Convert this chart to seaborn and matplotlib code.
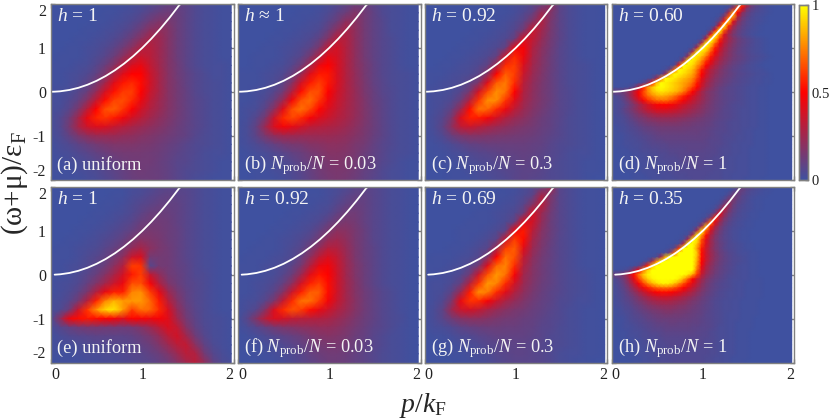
import numpy as np
import seaborn as sns
import matplotlib
matplotlib.use('Agg')
import matplotlib.pyplot as plt
from matplotlib.colors import LinearSegmentedColormap

# spectral weight, in percent
# rows: w = 2.0, 1.8, ... -2.0   columns: p = 0 ... 1.975 (21 points)
panel_a = [
[0,0,0,0,0,0,0,1,1,2,3,5,7,9,10,8,5,3,2,1,1],
[0,0,0,0,0,0,1,1,2,3,5,8,11,13,11,8,5,3,2,1,1],
[0,0,0,0,0,1,1,2,3,5,8,13,17,16,12,8,5,3,2,1,1],
[0,0,0,0,1,1,2,3,5,8,13,20,22,18,12,8,5,3,2,1,1],
[0,0,0,1,1,2,3,5,8,13,20,27,25,18,12,8,5,3,2,1,1],
[0,0,1,1,2,3,5,8,13,20,29,31,25,18,12,8,5,3,2,1,1],
[0,1,1,1,2,4,7,12,20,29,36,32,25,18,12,8,5,3,2,1,1],
[1,1,1,2,3,6,11,19,30,40,44,34,26,18,13,8,5,3,2,2,1],
[1,1,2,3,5,9,17,29,42,50,50,37,27,19,13,9,6,4,2,2,1],
[1,1,2,4,8,14,26,42,54,58,52,38,27,19,14,9,6,4,3,2,1],
[1,2,3,6,11,22,38,53,61,62,50,36,27,19,14,10,6,4,3,2,1],
[2,2,5,9,19,34,52,63,65,58,45,33,25,19,14,10,7,5,3,2,1],
[2,3,7,16,32,50,65,68,60,49,38,30,24,18,14,10,7,5,3,2,1],
[2,5,12,26,44,57,60,55,46,38,32,26,21,17,13,10,7,5,3,2,1],
[2,5,14,27,37,41,40,35,31,27,24,21,18,15,12,9,7,5,3,2,1],
[2,4,9,16,21,24,24,24,22,21,19,17,15,13,11,9,6,4,3,2,1],
[1,3,5,8,11,14,16,17,17,17,16,15,13,11,9,7,5,4,3,2,1],
[1,2,3,5,7,9,11,13,14,14,14,13,12,10,8,6,5,3,2,2,1],
[1,1,2,3,4,6,8,10,12,13,13,13,11,9,7,6,4,3,2,1,1],
[1,1,1,2,3,4,6,8,10,12,13,12,11,9,7,5,4,3,2,1,1],
[0,1,1,1,2,3,5,7,9,11,12,12,11,9,7,5,3,2,1,1,1],
]
panel_b = [
[0,0,0,0,0,0,0,0,1,1,3,5,8,11,12,8,5,3,2,1,1],
[0,0,0,0,0,0,0,1,1,2,4,8,12,18,14,9,5,3,2,1,1],
[0,0,0,0,0,0,1,1,2,3,7,12,21,20,14,9,6,3,2,1,1],
[0,0,0,0,0,1,1,2,3,5,11,20,28,21,14,9,6,3,2,1,1],
[0,0,0,0,1,1,2,3,5,9,18,32,30,21,14,9,6,4,2,1,1],
[0,0,0,1,1,2,3,5,8,16,33,38,30,21,14,9,6,4,2,1,1],
[0,0,1,1,1,2,4,7,15,29,43,39,30,21,14,9,6,4,2,1,1],
[0,0,1,1,2,3,6,13,26,44,50,40,30,21,15,10,6,4,2,1,1],
[1,1,1,2,3,5,11,23,42,55,54,40,30,22,15,10,6,4,3,2,1],
[1,1,1,2,4,8,18,38,55,62,54,40,30,22,16,10,7,4,3,2,1],
[1,1,2,3,6,13,30,52,65,65,50,38,30,23,16,11,7,5,3,2,1],
[1,1,2,5,11,24,47,66,71,60,46,36,29,23,17,11,8,5,3,2,1],
[1,2,3,8,20,42,65,72,64,51,41,34,28,23,17,12,8,5,3,2,1],
[1,2,6,15,36,58,64,58,48,41,36,31,27,22,17,12,8,5,3,2,1],
[1,3,9,24,40,47,43,38,33,31,29,27,24,20,16,12,8,5,3,2,1],
[1,3,8,16,22,25,25,24,24,24,24,23,21,18,15,11,8,5,3,2,1],
[1,2,4,7,10,13,15,16,18,19,20,20,19,16,14,10,7,5,3,2,1],
[0,1,2,3,5,7,9,11,14,16,18,18,17,15,12,9,7,4,3,2,1],
[0,1,1,2,3,4,6,9,12,14,16,17,16,14,11,9,6,4,2,1,1],
[0,0,1,1,2,3,5,7,10,13,15,16,15,13,10,8,5,3,2,1,1],
[0,0,1,1,1,2,4,6,9,12,14,15,14,12,9,7,5,3,2,1,1],
]
panel_c = [
[0,0,0,0,0,0,0,0,0,1,2,3,6,10,22,8,4,2,1,1,0],
[0,0,0,0,0,0,0,0,1,1,2,5,9,24,18,8,4,2,1,1,0],
[0,0,0,0,0,0,0,1,1,2,4,8,18,30,16,8,4,2,1,1,0],
[0,0,0,0,0,0,1,1,2,3,6,14,36,26,15,8,4,2,1,1,0],
[0,0,0,0,0,1,1,2,3,5,11,40,34,23,14,8,4,2,1,1,0],
[0,0,0,0,1,1,2,3,5,10,45,48,30,20,13,7,4,2,1,1,0],
[0,0,0,1,1,2,3,5,10,38,58,46,28,19,12,7,4,2,1,1,0],
[0,0,1,1,2,3,5,9,26,58,62,40,26,18,12,7,4,3,2,1,0],
[1,1,1,2,3,4,8,20,50,68,62,36,24,17,11,7,4,3,2,1,0],
[1,1,2,3,4,8,17,42,68,74,58,32,22,16,11,7,4,3,2,1,0],
[1,2,2,3,6,15,38,64,78,72,50,30,21,15,11,7,5,3,2,1,0],
[1,2,3,5,12,30,60,78,77,60,42,27,20,15,11,7,5,3,2,1,0],
[1,2,4,9,24,52,72,70,58,45,33,24,18,14,10,7,5,3,2,1,0],
[1,3,6,16,40,56,55,47,38,30,24,20,16,12,9,7,4,3,2,1,0],
[1,3,8,20,33,36,32,28,24,21,18,16,14,11,9,6,4,3,2,1,0],
[1,2,5,11,16,18,18,17,16,15,14,13,12,10,8,6,4,3,2,1,0],
[1,1,2,4,7,9,10,11,11,11,11,11,10,9,7,5,4,3,2,1,0],
[0,1,1,2,3,5,6,7,8,9,9,10,9,8,6,5,3,2,2,1,0],
[0,0,1,1,2,3,4,5,6,7,8,9,8,7,6,4,3,2,1,1,0],
[0,0,0,1,1,2,3,4,5,6,7,8,8,7,5,4,3,2,1,1,0],
[0,0,0,1,1,1,2,3,4,5,7,8,7,6,5,4,3,2,1,0,0],
]
panel_e = [
[0,0,0,0,0,0,0,0,1,2,3,4,6,7,7,6,5,3,2,1,1],
[0,0,0,0,0,0,0,1,1,3,4,6,8,9,8,7,5,3,2,1,1],
[0,0,0,0,0,0,1,1,2,4,6,8,10,10,9,7,5,3,2,1,1],
[0,0,0,0,0,1,1,2,3,5,8,11,12,11,9,7,5,3,2,1,1],
[0,0,0,0,1,1,2,3,5,7,11,13,13,12,9,7,5,3,2,1,1],
[0,0,0,1,1,2,3,5,7,10,14,15,14,12,10,7,5,3,2,1,1],
[0,0,1,1,2,3,5,7,10,15,19,17,15,12,10,7,5,3,2,1,1],
[0,1,1,2,3,4,7,10,14,22,27,20,16,13,10,7,5,3,2,1,1],
[1,1,1,2,4,6,9,14,21,36,40,14,14,13,10,7,5,3,2,1,1],
[1,1,2,3,5,8,12,20,30,62,60,6,14,13,10,8,5,3,2,1,1],
[1,1,2,4,7,11,18,27,38,55,62,35,22,14,11,8,5,4,2,1,1],
[1,2,3,5,10,17,26,36,45,65,65,48,30,17,12,8,6,4,2,1,1],
[1,2,4,8,16,30,44,56,56,76,78,62,44,25,15,9,6,4,2,1,1],
[2,3,6,14,30,56,75,85,80,80,80,70,55,32,18,10,6,4,2,1,1],
[2,4,12,35,60,78,92,95,80,62,72,70,58,40,22,12,7,4,2,1,1],
[3,20,45,52,54,52,50,48,42,50,48,46,48,42,26,14,8,4,3,2,1],
[2,6,10,13,15,15,14,14,13,14,18,24,32,40,34,18,9,5,3,2,1],
[1,3,5,6,7,8,8,8,8,9,12,16,22,32,38,26,13,6,3,2,1],
[1,2,2,3,4,5,5,6,6,7,9,12,17,24,32,34,20,9,4,2,1],
[1,1,1,2,3,3,4,4,5,6,7,9,12,17,24,32,30,14,6,3,1],
[0,1,1,1,2,2,3,3,4,5,6,7,9,12,18,26,32,22,9,4,2],
]
panel_f = [
[0,0,0,0,0,0,0,0,0,1,2,3,4,7,8,7,5,3,2,1,0],
[0,0,0,0,0,0,0,0,1,1,2,4,7,9,9,7,5,3,2,1,0],
[0,0,0,0,0,0,0,1,1,2,3,6,9,11,10,7,5,3,2,1,0],
[0,0,0,0,0,0,1,1,2,3,5,9,13,13,10,7,5,3,2,1,0],
[0,0,0,0,0,1,1,2,3,5,9,14,16,14,10,7,5,3,2,1,0],
[0,0,0,0,1,1,2,3,5,9,15,20,19,15,11,7,5,3,2,1,0],
[0,0,0,1,1,2,3,5,8,14,22,25,21,15,11,7,5,3,2,1,0],
[0,0,1,1,1,2,4,7,13,22,31,30,23,16,11,8,5,3,2,1,0],
[0,1,1,1,2,3,5,10,20,33,40,34,24,16,11,8,5,3,2,1,0],
[1,1,1,2,3,4,8,15,30,44,47,36,25,17,12,8,5,3,2,1,0],
[1,1,1,2,3,6,12,24,42,54,50,37,25,17,12,8,5,3,2,1,0],
[1,1,2,3,5,10,20,38,56,62,52,37,26,18,12,8,5,3,2,1,0],
[1,1,2,4,8,18,36,56,68,68,52,37,26,18,13,9,6,4,2,1,0],
[1,2,3,7,16,34,58,72,72,62,47,35,26,19,13,9,6,4,2,1,0],
[1,3,6,18,40,58,66,62,53,44,37,30,24,18,13,9,6,4,2,1,0],
[1,7,18,32,40,38,34,32,31,30,28,24,20,16,12,9,6,4,3,1,0],
[1,3,6,10,14,17,18,20,21,22,22,20,17,14,11,8,6,4,2,1,0],
[0,1,2,4,6,8,10,12,15,17,18,17,15,12,10,7,5,3,2,1,0],
[0,1,1,2,3,5,7,9,12,14,15,15,13,11,9,7,5,3,2,1,0],
[0,0,1,1,2,3,5,7,10,12,13,13,12,10,8,6,4,3,2,1,0],
[0,0,0,1,1,2,4,6,8,10,12,12,11,9,8,6,4,3,2,1,0],
]
panel_g = [
[0,0,0,0,0,0,0,0,0,1,1,3,5,9,25,7,4,2,1,1,0],
[0,0,0,0,0,0,0,0,1,1,2,4,8,28,17,7,4,2,1,1,0],
[0,0,0,0,0,0,0,1,1,2,3,7,18,33,15,7,4,2,1,1,0],
[0,0,0,0,0,0,1,1,2,3,5,12,40,24,13,7,4,2,1,1,0],
[0,0,0,0,0,1,1,1,2,4,9,42,38,22,12,7,4,2,1,1,0],
[0,0,0,0,1,1,1,2,4,8,46,55,32,19,12,7,4,2,1,1,0],
[0,0,0,0,1,1,2,4,8,36,62,52,27,17,11,6,4,2,1,1,0],
[0,0,0,1,1,2,4,7,25,62,68,42,24,16,10,6,4,2,1,1,0],
[0,1,1,1,2,3,6,17,50,72,66,34,21,14,10,6,4,2,1,1,0],
[1,1,1,2,3,6,14,42,70,76,58,30,19,13,9,6,4,2,1,1,0],
[1,1,2,3,5,13,36,66,80,72,48,26,18,13,9,6,4,3,2,1,0],
[1,2,2,4,10,30,60,80,76,58,38,24,17,12,9,6,4,3,2,1,0],
[1,2,3,8,24,55,78,74,58,42,30,21,15,11,8,6,4,3,2,1,0],
[1,2,5,16,44,60,58,48,37,28,22,17,13,10,8,5,4,2,2,1,0],
[1,3,8,24,36,38,34,28,23,19,16,14,11,9,7,5,3,2,1,1,0],
[1,3,7,13,18,20,20,18,16,14,13,11,10,8,6,5,3,2,1,1,0],
[1,2,3,5,8,10,11,12,12,11,11,10,9,7,6,4,3,2,1,1,0],
[0,1,1,2,4,5,7,8,9,9,9,9,8,7,5,4,3,2,1,1,0],
[0,0,1,1,2,3,4,6,7,8,8,8,7,6,5,4,3,2,1,1,0],
[0,0,0,1,1,2,3,4,6,7,8,8,7,6,5,3,2,2,1,1,0],
[0,0,0,0,1,1,2,3,5,6,7,7,7,6,5,3,2,1,1,0,0],
]

# d and h carry a thin ridge, so they are read on a finer grid
# rows: w = 2.0, 1.9, ... -2.0   columns: p step 0.05, the rest of each row is 0
panel_d = [
[0]*27 + [3,25,62,35,14,8,5,3,2,1],
[0]*26 + [3,25,72,45,18,10,6,4,2,1],
[0]*25 + [3,28,82,50,22,12,7,4,3,2,1],
[0]*24 + [3,20,68,80,30,15,9,5,3,2,1],
[0]*23 + [2,12,55,92,42,21,12,7,4,3,2,1],
[0]*23 + [6,45,97,58,28,16,9,6,4,2,1],
[0]*22 + [5,45,100,68,34,20,12,8,5,3,2,1],
[0]*21 + [4,45,100,78,40,25,15,10,6,4,2,1],
[0]*20 + [3,35,100,88,58,36,26,19,13,9,7,5,3,2,1],
[0]*19 + [3,30,100,92,68,45,32,23,17,12,9,7,5,3,2,1],
[0]*18 + [3,30,100,95,78,55,38,28,20,15,11,8,6,4,3,2,1],
[0]*17 + [3,30,100,95,85,66,48,34,25,19,14,10,8,6,4,3,2,1],
[0]*16 + [2,25,100,95,86,72,55,40,30,23,18,14,11,9,7,5,4,3,2,1],
[0]*15 + [3,30,100,97,88,76,60,46,34,26,20,16,12,10,8,6,4,3,2,1],
[0]*14 + [5,55,100,97,92,80,68,50,38,29,22,17,13,10,8,6,4,3,2,1],
[0]*12 + [2,12,70,100,97,92,86,72,55,40,30,24,18,14,11,8,7,5,4,3,2,2,1],
[0]*10 + [1,4,25,85,100,97,93,88,82,68,50,38,28,22,17,14,11,9,7,6,5,4,3,2,2,1],
[0]*8 + [1,5,25,70,100,98,95,90,86,82,76,62,44,33,25,19,15,12,10,8,6,5,4,3,2,2,1,1],
[0]*6 + [1,4,18,55,85,100,97,94,90,86,82,78,70,55,40,29,22,17,14,11,9,7,6,5,4,3,2,2,1,1],
[0]*3 + [1,3,8,30,55,75,88,97,100,97,94,90,86,80,72,62,50,36,26,20,15,11,9,7,6,5,4,3,2,2,1,1],
[12,12,12,15,22,34,48,62,76,86,92,95,93,90,87,82,74,62,50,38,27,20,16,13,10,8,7,6,5,4,3,2,2,1,1],
[3,4,7,12,22,33,46,60,70,76,82,84,82,78,72,64,56,48,40,33,26,20,16,13,10,8,7,6,5,4,3,2,2,1,1],
[2,3,5,10,16,26,36,47,58,64,70,71,72,67,62,55,47,41,35,29,24,19,15,12,10,8,7,6,5,4,3,2,2,1,1],
[2,3,4,7,12,17,24,31,38,43,48,49,50,48,46,41,37,33,29,25,21,17,14,11,9,8,6,5,4,4,3,2,2,1,1],
[2,3,5,9,13,18,24,29,35,38,42,42,42,40,38,35,31,28,25,22,19,16,13,11,9,7,6,5,4,3,3,2,2,1,1],
[1,3,4,7,10,14,18,22,26,28,31,32,32,31,30,28,26,24,21,19,17,14,12,10,8,7,6,5,4,3,3,2,2,1,1],
[1,2,3,5,8,11,14,16,19,21,22,23,23,23,22,21,20,18,17,15,14,12,11,9,8,7,6,5,4,3,3,2,2,1,1],
[1,2,3,4,6,8,11,13,15,16,17,18,18,18,18,17,16,15,14,13,12,11,10,8,7,6,5,4,4,3,3,2,2,1,1],
[1,1,2,3,5,6,8,10,11,12,13,14,14,14,14,14,13,13,12,11,11,10,9,8,7,6,5,4,4,3,3,2,2,1,1],
[1,1,2,3,4,5,6,8,9,10,11,12,12,12,12,12,12,11,11,11,10,9,8,7,6,6,5,4,4,3,2,2,1,1,1],
[1,1,1,2,3,4,5,6,7,8,9,10,10,10,10,10,10,10,10,10,9,9,8,7,6,5,5,4,3,3,2,2,1,1,1],
[1,1,1,2,3,3,4,5,6,7,8,8,9,9,9,9,9,9,9,9,9,8,7,7,6,5,4,4,3,3,2,2,1,1,1],
[0,1,1,2,2,3,3,4,5,6,6,7,7,8,8,8,8,8,8,8,8,8,7,6,6,5,4,3,3,2,2,2,1,1,1],
[0,0,1,1,2,2,3,4,4,5,5,6,6,7,7,7,7,8,8,8,8,7,7,6,5,4,4,3,3,2,2,1,1,1,1],
[0,0,1,1,1,2,2,3,3,4,4,5,5,6,6,7,7,7,7,7,7,7,6,6,5,4,4,3,3,2,2,1,1,1,1],
[0,0,0,1,1,1,2,2,3,3,4,4,5,5,5,6,6,6,6,6,7,6,6,5,5,4,3,3,2,2,2,1,1,1,1],
[0,0,0,1,1,1,2,2,2,3,3,4,4,5,5,5,6,6,6,6,6,6,5,5,5,4,3,3,2,2,2,1,1,1,1],
[0,0,0,0,1,1,1,2,2,3,3,3,4,4,5,5,5,5,6,6,6,5,5,5,4,4,3,3,2,2,2,1,1,1,1],
[0,0,0,0,1,1,1,2,2,2,3,3,3,4,4,5,5,5,5,5,5,5,5,4,4,3,3,3,2,2,2,1,1,1,1],
[0,0,0,0,0,1,1,1,2,2,2,3,3,3,4,4,4,5,5,5,5,5,4,4,4,3,3,2,2,2,2,1,1,1,1],
[0,0,0,0,0,1,1,1,1,2,2,2,3,3,3,4,4,4,5,5,5,4,4,4,4,3,3,2,2,2,1,1,1,1],
]
panel_h = [
[0]*27 + [1,6,11,8,6,4,3,2,1,1],
[0]*26 + [1,6,12,10,6,4,3,2,1,1],
[0]*25 + [1,6,14,12,7,5,3,2,1,1],
[0]*24 + [1,6,16,16,9,6,4,2,1,1],
[0]*23 + [1,4,16,24,12,7,5,3,2,1,1],
[0]*22 + [1,3,14,32,18,10,6,4,3,2,1,1],
[0]*21 + [1,3,14,45,24,13,8,5,3,2,1,1],
[0]*20 + [1,3,16,58,32,18,10,6,4,3,2,1,1],
[0]*19 + [1,3,20,72,44,24,13,8,5,3,2,1,1],
[0]*18 + [1,3,25,88,56,30,17,10,6,4,3,2,1,1],
[0]*17 + [1,3,28,95,68,38,22,13,8,5,3,2,1,1],
[0]*16 + [1,3,28,100,82,52,30,18,11,7,5,3,2,1,1],
[0]*15 + [1,3,28,100,95,65,42,26,16,10,7,5,3,2,1,1],
[0]*14 + [1,3,30,100,100,88,62,40,26,17,11,8,5,4,3,2,1,1],
[0]*13 + [2,8,60,100,100,100,80,55,36,24,16,11,7,5,4,3,2,1,1],
[0]*11 + [1,3,14,70,100,100,100,100,88,52,36,25,18,12,9,6,5,3,2,2,1,1],
[0]*9 + [1,4,25,85,100,100,100,100,100,100,85,52,36,25,18,13,9,7,5,4,3,2,1,1],
[0]*7 + [1,5,25,75,100,100,100,100,100,100,100,100,82,50,34,24,17,12,9,7,5,4,3,2,1,1],
[0]*5 + [1,4,18,55,88,100,100,100,100,100,100,100,100,100,78,46,30,21,15,11,8,6,5,3,2,2,1,1],
[0]*2 + [1,3,8,25,50,72,90,100,100,100,100,100,100,100,100,100,100,70,40,27,19,14,10,8,6,4,3,2,2,1,1],
[12,12,14,20,34,52,72,88,97,100,100,100,100,100,100,100,100,95,82,60,34,23,17,12,9,7,5,4,3,2,2,1,1],
[3,5,9,16,28,44,62,78,90,97,100,100,100,100,100,96,84,68,50,36,26,18,13,10,8,6,4,3,3,2,2,1,1,1],
[2,4,7,13,22,34,48,62,75,85,92,97,98,95,88,78,66,54,42,32,22,15,11,8,6,5,4,3,2,2,1,1,1,1],
[2,3,6,10,17,26,36,46,55,62,68,71,72,70,65,58,50,42,34,26,19,14,10,8,6,5,4,3,2,2,1,1,1,1],
[2,3,5,8,13,19,26,33,40,45,50,52,52,51,47,43,38,32,27,21,16,12,9,7,5,4,3,3,2,2,1,1,1,1],
[1,3,4,7,10,14,19,24,29,33,36,38,38,37,34,32,28,25,21,17,13,10,8,6,5,4,3,3,2,2,1,1,1,1],
[1,2,4,6,8,11,15,18,22,25,27,28,29,28,26,24,22,19,16,14,11,9,7,5,4,3,3,2,2,1,1,1,1],
[1,2,3,5,6,9,11,14,17,19,21,22,22,22,21,19,18,16,14,12,10,8,7,5,4,3,3,2,2,1,1,1,1],
[1,1,2,4,5,7,9,11,13,15,16,17,18,18,17,16,15,14,12,11,9,8,6,5,4,3,3,2,2,1,1,1,1],
[1,1,2,3,4,6,7,9,10,12,13,14,15,15,14,14,13,12,11,10,9,7,6,5,4,3,2,2,2,1,1,1,1],
[0,1,1,2,4,5,6,7,9,10,11,12,12,12,12,12,11,11,10,9,8,7,6,5,4,3,2,2,2,1,1,1],
[0,1,1,2,3,4,5,6,7,8,9,10,10,11,11,10,10,10,9,9,8,7,6,5,4,3,2,2,1,1,1,1],
[0,0,1,2,2,3,4,5,6,7,8,8,9,9,9,9,9,9,8,8,7,7,6,5,3,3,2,2,1,1,1,1],
[0,0,1,1,2,3,3,4,5,6,6,7,8,8,8,8,8,8,8,7,7,6,5,4,3,3,2,2,1,1,1],
[0,0,1,1,2,2,3,4,4,5,5,6,7,7,7,7,7,7,7,7,6,6,5,4,3,3,2,2,1,1,1],
[0,0,0,1,1,2,2,3,4,4,5,5,6,6,6,6,6,6,6,6,6,5,5,4,3,3,2,2,1,1,1],
[0,0,0,1,1,2,2,3,3,4,4,5,5,6,6,6,6,6,6,6,6,5,5,4,3,3,2,2,1,1,1],
[0,0,0,0,1,1,2,2,3,3,4,4,5,5,5,5,5,5,5,5,5,5,4,4,3,2,2,2,1,1,1],
[0,0,0,0,1,1,2,2,3,3,4,4,5,5,5,5,5,5,5,5,5,5,4,4,3,2,2,2,1,1,1],
[0,0,0,0,1,1,1,2,2,3,3,4,4,5,5,5,5,5,5,5,5,4,4,3,3,2,2,1,1,1,1],
[0,0,0,0,0,1,1,2,2,3,3,4,4,4,5,5,5,5,5,5,5,4,4,3,3,2,2,1,1,1],
]

# white curve
curve_p = [0, .04, .1, .2, .3, .4, .5, .6, .7, .8, .9, 1, 1.1, 1.2, 1.3, 1.4, 1.42]
curve_w = [0, .002, .01, .04, .09, .16, .25, .36, .49, .64, .81, 1, 1.21, 1.44, 1.69, 1.96, 2]

h_labels = ['$h$ = 1', '$h$ ≈ 1', '$h$ = 0.92', '$h$ = 0.60',
            '$h$ = 1', '$h$ = 0.92', '$h$ = 0.69', '$h$ = 0.35']
n_text = r'$N_{\mathrm{prob}}/N$'
low_labels = ['(a) uniform', f'(b) {n_text} = 0.03', f'(c) {n_text} = 0.3', f'(d) {n_text} = 1',
              '(e) uniform', f'(f) {n_text} = 0.03', f'(g) {n_text} = 0.3', f'(h) {n_text} = 1']
panels = [panel_a, panel_b, panel_c, panel_d, panel_e, panel_f, panel_g, panel_h]

sns.set_style('white')
plt.rcParams['font.family'] = ['Liberation Serif', 'DejaVu Serif']
plt.rcParams['mathtext.fontset'] = 'custom'
plt.rcParams['mathtext.rm'] = 'Liberation Serif'
plt.rcParams['mathtext.it'] = 'Liberation Serif:italic'
plt.rcParams['mathtext.bf'] = 'Liberation Serif:bold'

cmap = LinearSegmentedColormap.from_list('bry', ['#3f51a0', '#ff0000', '#ffff00'])
grey = '#808080'
W, H = 830, 418

fig = plt.figure(figsize=(W / 100, H / 100), dpi=100)
lefts = [51, 238, 424.5, 611.5]
tops = [4, 187]
cax = fig.add_axes([799 / W, 1 - 180 / H, 9 / W, 175 / H])

for i, rows in enumerate(panels):
    row, col = i // 4, i % 4
    ncol = max(len(r) for r in rows)
    ncol = 41 if ncol > 21 else 21
    data = np.array([r + [0] * (ncol - len(r)) for r in rows]) / 100
    dp = 1.975 / (ncol - 1)
    dw = 4 / (len(rows) - 1)

    ax = fig.add_axes([lefts[col] / W, 1 - (tops[row] + 175.5) / H, 182.5 / W, 175.5 / H])
    sns.heatmap(data, ax=ax, cmap=cmap, vmin=0, vmax=1, shading='gouraud',
                xticklabels=False, yticklabels=False, cbar=(i == 3), cbar_ax=cax if i == 3 else None)
    ax.set_xlim(0, 2 / dp)
    ax.set_ylim(4 / dw, 0)
    ax.set_facecolor('white')

    start = 0 if row == 0 else 1
    ax.plot(np.array(curve_p[start:]) / dp, (2 - np.array(curve_w[start:])) / dw,
            color='white', lw=1.3)

    ax.set_xticks(np.array([0, .5, 1, 1.5, 2]) / dp)
    ax.set_yticks((2 - np.array([2, 1, 0, -1, -2])) / dw)
    ax.tick_params(direction='in', length=3, width=1, color=grey, top=True, right=True,
                   bottom=True, left=True, labelsize=11.5, labelcolor='#222222', pad=3.5)
    if row == 1:
        ax.set_xticklabels(['0', '', '1', '', '2'])
        labs = ax.get_xticklabels()
        labs[0].set_ha('left')
        labs[4].set_ha('right')
    else:
        ax.set_xticklabels([])
    if col == 0:
        ax.set_yticklabels(['2', '1', '0', '-1', '-2'])
        labs = ax.get_yticklabels()
        labs[0].set_va('top')
        labs[4].set_va('bottom')
    else:
        ax.set_yticklabels([])
    for s in ax.spines.values():
        s.set_visible(True)
        s.set_color(grey)
        s.set_linewidth(1)

    ax.text(0.033, 0.926, h_labels[i], transform=ax.transAxes, color='#f4f4f4',
            fontsize=14, va='center', ha='left')
    ax.text(0.033, 0.085, low_labels[i], transform=ax.transAxes, color='#f4f4f4',
            fontsize=13.2, va='center', ha='left')

cax.set_yticks([0, .5, 1])
cax.set_yticklabels(['0', '0.5', '1'])
cax.tick_params(direction='in', length=2.5, width=1, color=grey, right=True, labelsize=10.5,
                labelcolor='#222222', pad=2.5)
for s in cax.spines.values():
    s.set_visible(True)
    s.set_color(grey)
    s.set_linewidth(1)

fig.text(15 / W, 1 - 183 / H, r'($\mathrm{\omega}$+$\mathrm{\mu}$)/$\mathrm{\varepsilon}_{\mathrm{F}}$',
         rotation=90, fontsize=21, ha='center', va='center')
fig.text(423 / W, 1 - 405 / H, r'$p/k_{\mathrm{F}}$', fontsize=20, ha='center', va='center')

fig.savefig('out.png', dpi=100)
